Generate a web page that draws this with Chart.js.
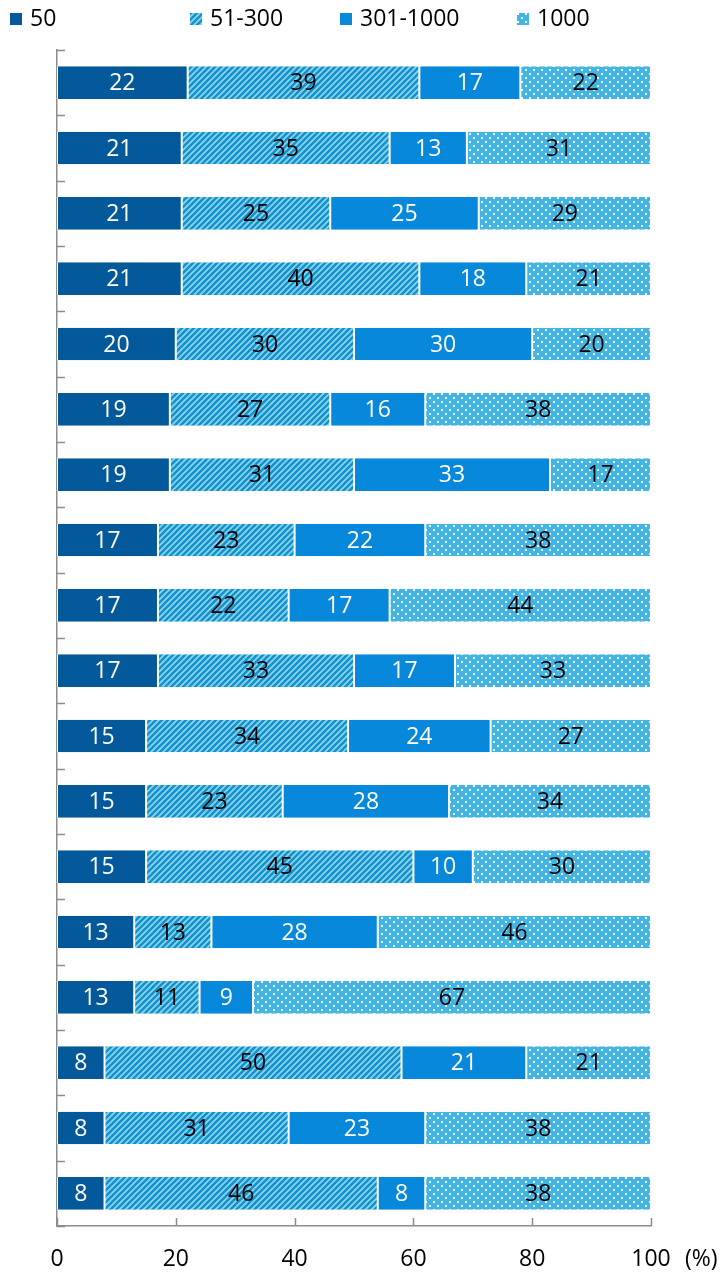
<!DOCTYPE html>
<html>
<head>
<meta charset="utf-8">
<script src="https://cdn.jsdelivr.net/npm/chart.js@4.4.1/dist/chart.umd.min.js"></script>
<style>
  body { margin: 0; background: #fff; }
</style>
</head>
<body>
<canvas id="chart" width="726" height="1273"></canvas>
<script>
var categories = ["1", "2", "3", "4", "5", "6", "7", "8", "9", "10", "11", "12", "13", "14", "15", "16", "17", "18"];
var seriesNames = ["50", "51-300", "301-1000", "1000"];
var size50 = [22, 21, 21, 21, 20, 19, 19, 17, 17, 17, 15, 15, 15, 13, 13, 8, 8, 8];
var size51to300 = [39, 35, 25, 40, 30, 27, 31, 23, 22, 33, 34, 23, 45, 13, 11, 50, 31, 46];
var size301to1000 = [17, 13, 25, 18, 30, 16, 33, 22, 17, 17, 24, 28, 10, 28, 9, 21, 23, 8];
var size1000 = [22, 31, 29, 21, 20, 38, 17, 38, 44, 33, 27, 34, 30, 46, 67, 21, 38, 38];
var xTicks = [0, 20, 40, 60, 80, 100];

var FONT = '"Open Sans", sans-serif';
var AXIS = "#8c8c8c";
// where each legend entry starts, left to right
var legendX = [10, 190, 340, 517];

function stripePattern() {
  var c = document.createElement("canvas");
  c.width = 6; c.height = 6;
  var g = c.getContext("2d");
  g.fillStyle = "#93d2e9";
  g.fillRect(0, 0, 6, 6);
  g.strokeStyle = "#0f94cf";
  g.lineWidth = 2.6;
  g.beginPath();
  g.moveTo(-1, 7); g.lineTo(7, -1);
  g.moveTo(-4, 4); g.lineTo(4, -4);
  g.moveTo(2, 10); g.lineTo(10, 2);
  g.stroke();
  return g.createPattern(c, "repeat");
}

function dotPattern() {
  var c = document.createElement("canvas");
  c.width = 8; c.height = 8;
  var g = c.getContext("2d");
  g.fillStyle = "#40b5e6";
  g.fillRect(0, 0, 8, 8);
  g.fillStyle = "#ffffff";
  g.fillRect(1, 1, 2, 2);
  g.fillRect(5, 5, 2, 2);
  return g.createPattern(c, "repeat");
}

var labelColors = ["#ffffff", "#000000", "#ffffff", "#000000"];

var barLabels = {
  id: "barLabels",
  afterDatasetsDraw: function (chart) {
    var ctx = chart.ctx;
    ctx.save();
    ctx.font = "23px " + FONT;
    ctx.textAlign = "center";
    ctx.textBaseline = "middle";
    chart.data.datasets.forEach(function (ds, di) {
      var meta = chart.getDatasetMeta(di);
      ctx.fillStyle = labelColors[di];
      meta.data.forEach(function (el, i) {
        ctx.fillText(ds.data[i], (el.x + el.base) / 2, el.y + 1);
      });
    });
    ctx.restore();
  }
};

var legendRow = {
  id: "legendRow",
  afterDraw: function (chart) {
    var ctx = chart.ctx;
    ctx.save();
    ctx.font = "23px " + FONT;
    ctx.textAlign = "left";
    ctx.textBaseline = "middle";
    chart.data.datasets.forEach(function (ds, di) {
      var x = legendX[di];
      ctx.fillStyle = ds.backgroundColor;
      ctx.fillRect(x, 13, 12, 12);
      ctx.fillStyle = "#000";
      ctx.fillText(ds.label, x + 20, 19);
    });
    ctx.restore();
  }
};

var innerTicks = {
  id: "innerTicks",
  afterDraw: function (chart) {
    var ctx = chart.ctx;
    var a = chart.chartArea;
    var xs = chart.scales.x;
    var ys = chart.scales.y;
    ctx.save();
    ctx.strokeStyle = AXIS;
    ctx.lineWidth = 1.5;
    ctx.beginPath();
    for (var i = 0; i <= categories.length; i++) {
      var y = Math.round(ys.getPixelForValue(i - 0.5)) + 0.5;
      ctx.moveTo(a.left, y);
      ctx.lineTo(a.left + 8, y);
    }
    xTicks.forEach(function (v) {
      var x = Math.round(xs.getPixelForValue(v)) + 0.5;
      ctx.moveTo(x, a.bottom);
      ctx.lineTo(x, a.bottom - 8);
    });
    ctx.stroke();
    ctx.font = "23px " + FONT;
    ctx.fillStyle = "#000";
    ctx.textAlign = "left";
    ctx.textBaseline = "middle";
    ctx.fillText("(%)", a.right + 34, a.bottom + 33);
    ctx.restore();
  }
};

var stripes = stripePattern();
var dots = dotPattern();

var ctx = document.getElementById("chart").getContext("2d");
var chart = new Chart(ctx, {
  type: "bar",
  data: {
    labels: categories,
    datasets: [
      { label: seriesNames[0], data: size50, backgroundColor: "#03599a" },
      { label: seriesNames[1], data: size51to300, backgroundColor: stripes },
      { label: seriesNames[2], data: size301to1000, backgroundColor: "#0788da" },
      { label: seriesNames[3], data: size1000, backgroundColor: dots }
    ]
  },
  options: {
    indexAxis: "y",
    responsive: false,
    animation: false,
    devicePixelRatio: 1,
    layout: { padding: { left: 57, right: 75, top: 50, bottom: 0 } },
    datasets: {
      bar: {
        categoryPercentage: 1,
        barPercentage: 0.5,
        borderColor: "#ffffff",
        borderWidth: { left: 1, right: 1 },
        borderSkipped: false
      }
    },
    plugins: {
      legend: { display: false },
      tooltip: { enabled: false }
    },
    scales: {
      x: {
        stacked: true,
        min: 0,
        max: 100,
        afterBuildTicks: function (scale) {
          scale.ticks = xTicks.map(function (v) { return { value: v }; });
        },
        afterFit: function (scale) {
          scale.height = 47;
        },
        grid: { display: false, drawTicks: false },
        border: { display: true, color: AXIS, width: 1.5 },
        ticks: {
          font: { size: 23, family: FONT },
          color: "#000",
          padding: 20,
          maxRotation: 0
        }
      },
      y: {
        stacked: true,
        grid: { display: false, drawTicks: false },
        border: { display: true, color: AXIS, width: 1.5 },
        ticks: { display: false }
      }
    }
  },
  plugins: [barLabels, legendRow, innerTicks]
});
</script>
</body>
</html>
